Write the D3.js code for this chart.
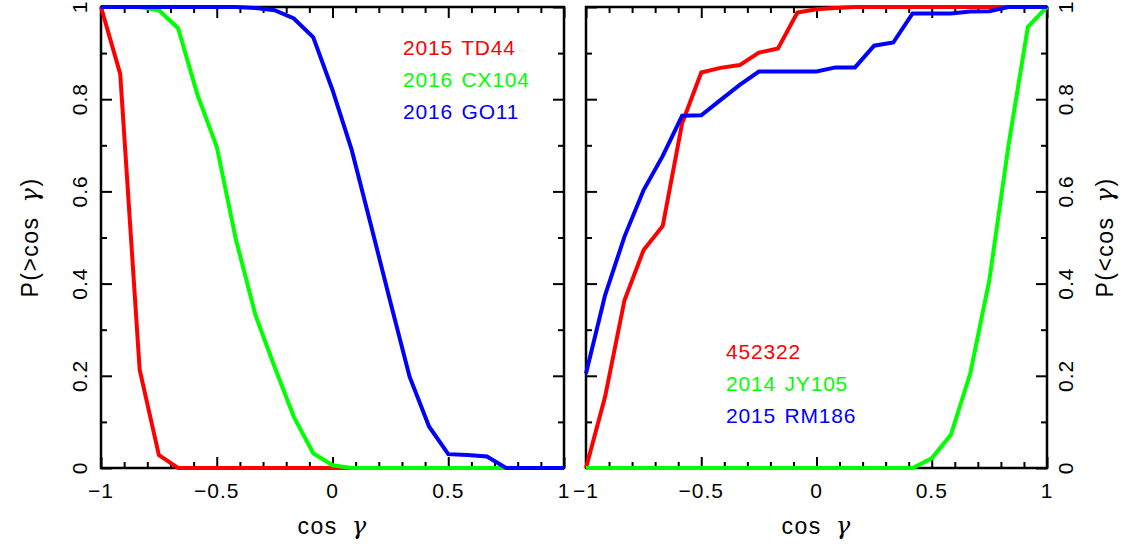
<!DOCTYPE html>
<html>
<head>
<meta charset="utf-8">
<script src="https://cdn.jsdelivr.net/npm/d3@7"></script>
<style>
  body { margin: 0; background: #fff; }
  text { font-family: "Liberation Sans", Arial, sans-serif; }
  .greek { font-family: "DejaVu Serif", serif; font-style: italic; }
</style>
</head>
<body>
<svg id="chart" width="1128" height="547"></svg>
<script>
// cos(gamma) sample grid shared by every curve
const cosGamma = [-1, -0.917, -0.833, -0.75, -0.667, -0.583, -0.5, -0.417, -0.333, -0.25, -0.167, -0.083,
                  0, 0.083, 0.167, 0.25, 0.333, 0.417, 0.5, 0.583, 0.667, 0.75, 0.833, 0.917, 1];

// Left panel: P(>cos gamma)
const td44_2015  = [1, 0.855, 0.213, 0.028, 0, 0, 0, 0, 0, 0, 0, 0, 0, 0, 0, 0, 0, 0, 0, 0, 0, 0, 0, 0, 0];
const cx104_2016 = [1, 1, 1, 0.993, 0.954, 0.809, 0.697, 0.495, 0.332, 0.219, 0.111, 0.032, 0.006,
                    0, 0, 0, 0, 0, 0, 0, 0, 0, 0, 0, 0];
const go11_2016  = [1, 1, 1, 1, 1, 1, 1, 1, 0.998, 0.993, 0.975, 0.934, 0.82, 0.69, 0.525, 0.36, 0.198,
                    0.09, 0.03, 0.028, 0.025, 0, 0, 0, 0];

// Right panel: P(<cos gamma)
const obj452322   = [0, 0.155, 0.364, 0.473, 0.525, 0.748, 0.858, 0.868, 0.874, 0.901, 0.910, 0.988, 0.995,
                     0.998, 1, 1, 1, 1, 1, 1, 1, 1, 1, 1, 1];
const jy105_2014  = [0, 0, 0, 0, 0, 0, 0, 0, 0, 0, 0, 0, 0, 0, 0, 0, 0, 0,
                     0.021, 0.072, 0.205, 0.408, 0.70, 0.957, 1];
const rm186_2015  = [0.205, 0.375, 0.502, 0.603, 0.677, 0.764, 0.765, 0.798, 0.831, 0.860, 0.860, 0.860, 0.860,
                     0.869, 0.869, 0.916, 0.923, 0.986, 0.986, 0.986, 0.990, 0.991, 1, 1, 1];

const leftNames  = ["2015 TD44", "2016 CX104", "2016 GO11"];
const rightNames = ["452322", "2014 JY105", "2015 RM186"];
const seriesColors = ["#ff0000", "#00ff00", "#0000ff"];

const xTickValues = [-1, -0.5, 0, 0.5, 1];
const xTickLabels = ["\u22121", "\u22120.5", "0", "0.5", "1"];
const xMinorTicks = [-0.9, -0.8, -0.7, -0.6, -0.4, -0.3, -0.2, -0.1, 0.1, 0.2, 0.3, 0.4, 0.6, 0.7, 0.8, 0.9];
const yTickValues = [0, 0.2, 0.4, 0.6, 0.8, 1];
const yTickLabels = ["0", "0.2", "0.4", "0.6", "0.8", "1"];
const yMinorTicks = [0.1, 0.3, 0.5, 0.7, 0.9];

const svg = d3.select("#chart");
const plotTop = 7, plotBottom = 468;

const panels = [
  { x0: 101, x1: 564, series: [td44_2015, cx104_2016, go11_2016], names: leftNames,
    legendX: 403, legendY: 55, side: "left", titleHead: "P(>cos ", titleTail: ")" },
  { x0: 586, x1: 1047, series: [obj452322, jy105_2014, rm186_2015], names: rightNames,
    legendX: 726, legendY: 359, side: "right", titleHead: "P(<cos ", titleTail: ")" }
];

const y = d3.scaleLinear().domain([0, 1]).range([plotBottom, plotTop]);

// text with an italic gamma in the middle
function gammaText(sel, head, tail) {
  sel.append("tspan").text(head);
  sel.append("tspan").attr("class", "greek").attr("font-size", "1.05em").text("\u03b3");
  if (tail) sel.append("tspan").text(tail);
}

panels.forEach(p => {
  const x = d3.scaleLinear().domain([-1, 1]).range([p.x0, p.x1]);
  const g = svg.append("g");

  // frame
  g.append("rect")
    .attr("x", p.x0).attr("y", plotTop)
    .attr("width", p.x1 - p.x0).attr("height", plotBottom - plotTop)
    .attr("fill", "none").attr("stroke", "#000").attr("stroke-width", 2.5);

  // inward ticks on all four sides
  const tickAxis = (axisFn, scale, values, size, transform) => {
    g.append("g")
      .attr("transform", transform)
      .call(axisFn(scale).tickValues(values).tickSize(-size).tickFormat(""))
      .call(a => a.select(".domain").remove())
      .call(a => a.selectAll("line").attr("stroke", "#000").attr("stroke-width", 2));
  };
  tickAxis(d3.axisBottom, x, xTickValues, 11, `translate(0,${plotBottom})`);
  tickAxis(d3.axisBottom, x, xMinorTicks, 6, `translate(0,${plotBottom})`);
  tickAxis(d3.axisTop, x, xTickValues, 11, `translate(0,${plotTop})`);
  tickAxis(d3.axisTop, x, xMinorTicks, 6, `translate(0,${plotTop})`);
  tickAxis(d3.axisLeft, y, yTickValues, 11, `translate(${p.x0},0)`);
  tickAxis(d3.axisLeft, y, yMinorTicks, 6, `translate(${p.x0},0)`);
  tickAxis(d3.axisRight, y, yTickValues, 11, `translate(${p.x1},0)`);
  tickAxis(d3.axisRight, y, yMinorTicks, 6, `translate(${p.x1},0)`);

  // x tick labels
  g.selectAll(null).data(xTickValues).enter().append("text")
    .attr("x", d => x(d)).attr("y", 498)
    .attr("text-anchor", "middle")
    .attr("font-size", 21).attr("letter-spacing", 1)
    .text((d, i) => xTickLabels[i]);

  // y tick labels, rotated
  const labX = p.side === "left" ? 87 : 1073;
  g.selectAll(null).data(yTickValues).enter().append("text")
    .attr("transform", d => `translate(${labX},${y(d)}) rotate(-90)`)
    .attr("text-anchor", "middle")
    .attr("font-size", 21).attr("letter-spacing", 1)
    .text((d, i) => yTickLabels[i]);

  // axis titles
  const cx = (p.x0 + p.x1) / 2;
  g.append("text")
    .attr("x", cx).attr("y", 534)
    .attr("text-anchor", "middle")
    .attr("font-size", 23).attr("letter-spacing", 1.5).attr("word-spacing", 6)
    .call(gammaText, "cos ", null);
  const tX = p.side === "left" ? 38 : 1113;
  g.append("text")
    .attr("transform", `translate(${tX},${(plotTop + plotBottom) / 2}) rotate(-90)`)
    .attr("text-anchor", "middle")
    .attr("font-size", 23).attr("letter-spacing", 1.5).attr("word-spacing", 6)
    .call(gammaText, p.titleHead, p.titleTail);

  // curves
  const line = d3.line().x((d, i) => x(cosGamma[i])).y(d => y(d));
  p.series.forEach((s, i) => {
    g.append("path")
      .datum(s)
      .attr("d", line)
      .attr("fill", "none")
      .attr("stroke", seriesColors[i])
      .attr("stroke-width", 4);
  });

  // legend
  p.names.forEach((n, i) => {
    g.append("text")
      .attr("x", p.legendX).attr("y", p.legendY + i * 32)
      .attr("font-size", 21).attr("letter-spacing", 0.8).attr("word-spacing", 2)
      .attr("fill", seriesColors[i])
      .text(n);
  });
});
</script>
</body>
</html>
